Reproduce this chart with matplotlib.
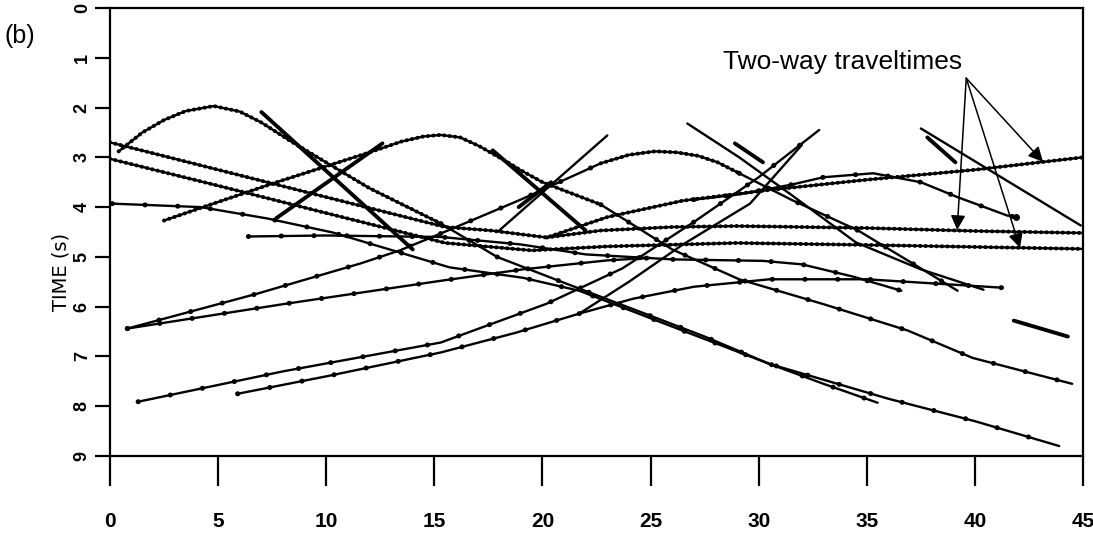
import matplotlib
matplotlib.use("Agg")
import matplotlib.pyplot as plt

# ---------------- data (distance km, two-way time s) ----------------
x_ticks = [0, 5, 10, 15, 20, 25, 30, 35, 40, 45]
y_ticks = [0, 1, 2, 3, 4, 5, 6, 7, 8, 9]

hump5_x = [0.4, 1.5, 2.5, 3.5, 4.8, 6.0, 7.0, 8.3, 9.6, 12.0, 15.3]
hump5_y = [2.88, 2.5, 2.25, 2.07, 1.97, 2.08, 2.3, 2.66, 3.0, 3.62, 4.33]
hump5_tail_x = [15.3, 17.9, 21.0, 24.5, 27.5, 30.5, 33.0, 35.5]
hump5_tail_y = [4.33, 5.0, 5.52, 6.1, 6.6, 7.15, 7.55, 7.93]

t1_x = [0, 5, 10, 15.5, 17.6, 20.2, 23, 26.5, 30.4, 35, 40, 45]
t1_y = [2.70, 3.25, 3.8, 4.40, 4.47, 4.61, 4.2, 3.87, 3.66, 3.45, 3.25, 3.0]
t2_x = [0, 5, 10, 15.5, 19.5, 23, 29, 35, 40, 45]
t2_y = [3.03, 3.57, 4.12, 4.72, 4.87, 4.79, 4.72, 4.76, 4.8, 4.84]
t3_x = [20.2, 22.7, 26, 29, 35, 40, 45]
t3_y = [4.61, 4.47, 4.4, 4.38, 4.42, 4.48, 4.52]

hump15_x = [2.5, 4.3, 6, 7.7, 10, 12.0, 13.5, 14.5, 15.3, 16.2, 17.1, 18.4, 19.0, 20.0, 21.5, 22.7]
hump15_y = [4.27, 4.0, 3.75, 3.5, 3.18, 2.9, 2.68, 2.58, 2.55, 2.6, 2.78, 3.1, 3.26, 3.5, 3.75, 3.95]
hump15_tail_x = [22.7, 26, 29.1, 33, 36.9, 39.9, 44.5]
hump15_tail_y = [3.95, 4.85, 5.45, 5.95, 6.48, 7.03, 7.55]

hump25_left_x = [0.8, 6.8, 11.6, 13.4, 15.3, 19.1, 22.7]
hump25_left_y = [6.44, 5.74, 5.13, 4.87, 4.53, 3.83, 3.12]
hump25_top_x = [22.7, 24.0, 25.2, 26.2, 27.2, 28.1, 29.1]
hump25_top_y = [3.12, 2.95, 2.88, 2.9, 2.97, 3.1, 3.32]
hump25_right_x = [29.1, 31.5, 34.6, 37.0, 39.2]
hump25_right_y = [3.32, 3.85, 4.47, 5.1, 5.68]

hump37_x = [27, 29, 31.5, 33, 35.3, 37.5, 39.2, 41.5, 41.9]
hump37_y = [3.85, 3.75, 3.55, 3.4, 3.32, 3.5, 3.8, 4.17, 4.2]

da_x = [0.1, 4.2, 7.3, 10.3, 15.7, 19.1, 21.7, 26, 30.5, 36, 40, 43.9]
da_y = [3.93, 4.0, 4.23, 4.51, 5.21, 5.42, 5.68, 6.4, 7.15, 7.85, 8.3, 8.8]
l10_x = [0.8, 8, 15.3, 19.1, 23, 25]
l10_y = [6.44, 5.95, 5.48, 5.25, 5.07, 5.02]
h_x = [6.4, 10, 15.3, 19, 22, 26, 30.2, 32, 34.4, 36.6]
h_y = [4.59, 4.57, 4.6, 4.75, 4.95, 5.05, 5.08, 5.15, 5.4, 5.68]
b1_x = [1.3, 8, 15.3, 20.2, 23.7, 27, 30, 32.8]
b1_y = [7.91, 7.3, 6.72, 5.94, 5.23, 4.3, 3.4, 2.45]
b2_x = [5.9, 10, 15.3, 18.8, 21.7]
b2_y = [7.75, 7.4, 6.92, 6.52, 6.14]
g_x = [21.7, 24.2, 27, 30.5, 35, 41.3]
g_y = [6.14, 5.84, 5.6, 5.45, 5.45, 5.62]
r2_x = [21.7, 24, 26.5, 29.6, 32.0]
r2_y = [6.14, 5.5, 4.75, 3.93, 2.75]

k1_x = [26.7, 29.1, 31.5, 34.5, 37.5, 40.4]
k1_y = [2.32, 3.0, 3.75, 4.71, 5.25, 5.66]
tr_x = [37.5, 44.9]
tr_y = [2.42, 4.37]
r3_x = [18.0, 23.0]
r3_y = [4.47, 2.56]

thick1_x = [7.0, 14.0]
thick1_y = [2.09, 4.85]
thick2_x = [17.7, 22.0]
thick2_y = [2.86, 4.47]
r0_x = [7.7, 12.6]
r0_y = [4.22, 2.72]
k1b_x = [28.9, 30.2]
k1b_y = [2.72, 3.1]
r3b_x = [18.9, 20.4]
r3b_y = [4.0, 3.5]
trb_x = [37.8, 39.1]
trb_y = [2.6, 3.1]
iso_x = [41.8, 44.3]
iso_y = [6.28, 6.6]

arrow_origin = (39.6, 1.41)
arrow_tips = [(43.15, 3.09), (39.18, 4.46), (42.09, 4.82)]

# ---------------- figure ----------------
W, H = 1093, 550
fig = plt.figure(figsize=(W / 100, H / 100), dpi=100)
ax = fig.add_axes([110 / W, 1 - 456 / H, (1083 - 110) / W, (456 - 8) / H])
ax.set_xlim(0, 45)
ax.set_ylim(9, 0)

for s in ax.spines.values():
    s.set_linewidth(1.6)
    s.set_color("black")

ax.set_xticks(x_ticks)
ax.set_xticklabels([str(v) for v in x_ticks],
                   fontsize=15, fontweight="bold",
                   family=["Liberation Sans Narrow", "Liberation Sans", "DejaVu Sans"])
ax.tick_params(axis="x", length=21.6, width=1.6, direction="out", pad=19)
ax.set_yticks(y_ticks)
ax.set_yticklabels([str(v) for v in y_ticks], rotation=90, va="center",
                   fontsize=13, fontweight="bold",
                   family=["Liberation Sans", "DejaVu Sans"])
ax.tick_params(axis="y", length=10.8, width=1.6, direction="out", pad=3)


def draw(x, y, style):
    if style == "thick":
        ax.plot(x, y, color="black", lw=2.8, solid_capstyle="round")
        return
    ax.plot(x, y, color="black", lw=1.7, solid_capstyle="round")
    if style == "dots":
        ax.plot(x, y, color="black", lw=2.9, linestyle=(0, (0.05, 1.3)),
                dash_capstyle="round")
    elif style == "ticks":
        ax.plot(x, y, color="black", lw=3.6, linestyle=(0, (0.05, 6.5)),
                dash_capstyle="round")


curves = [
    (hump5_x, hump5_y, "dots"), (hump5_tail_x, hump5_tail_y, "ticks"),
    (t1_x, t1_y, "dots"), (t2_x, t2_y, "dots"), (t3_x, t3_y, "dots"),
    (hump15_x, hump15_y, "dots"), (hump15_tail_x, hump15_tail_y, "ticks"),
    (hump25_left_x, hump25_left_y, "ticks"), (hump25_top_x, hump25_top_y, "dots"),
    (hump25_right_x, hump25_right_y, "ticks"),
    (hump37_x, hump37_y, "ticks"),
    (da_x, da_y, "ticks"), (l10_x, l10_y, "ticks"), (h_x, h_y, "ticks"),
    (b1_x, b1_y, "ticks"), (b2_x, b2_y, "ticks"), (g_x, g_y, "ticks"),
    (r2_x, r2_y, "plain"), (k1_x, k1_y, "plain"), (tr_x, tr_y, "plain"),
    (r3_x, r3_y, "plain"),
    (thick1_x, thick1_y, "thick"), (thick2_x, thick2_y, "thick"),
    (r0_x, r0_y, "thick"), (k1b_x, k1b_y, "thick"), (r3b_x, r3b_y, "thick"),
    (trb_x, trb_y, "thick"), (iso_x, iso_y, "thick"),
]
for cx, cy, st in curves:
    draw(cx, cy, st)

ax.plot([hump37_x[-1]], [hump37_y[-1]], "o", color="black", ms=4)

for tip in arrow_tips:
    ax.annotate("", xy=tip, xytext=arrow_origin,
                arrowprops=dict(arrowstyle="-|>", color="black", lw=1.1,
                                mutation_scale=22, shrinkA=0, shrinkB=0))

sans = ["Liberation Sans", "DejaVu Sans"]
fig.text(962 / W, 1 - 62 / H, "Two-way traveltimes", ha="right", va="center",
         fontsize=19, family=sans)
fig.text(20 / W, 1 - 36 / H, "(b)", ha="center", va="center", fontsize=18, family=sans)
fig.text(61 / W, 1 - 272 / H, "TIME (s)", rotation=90, ha="center", va="center",
         fontsize=14, family=["DejaVu Sans"])

fig.savefig("out.png", dpi=100)
